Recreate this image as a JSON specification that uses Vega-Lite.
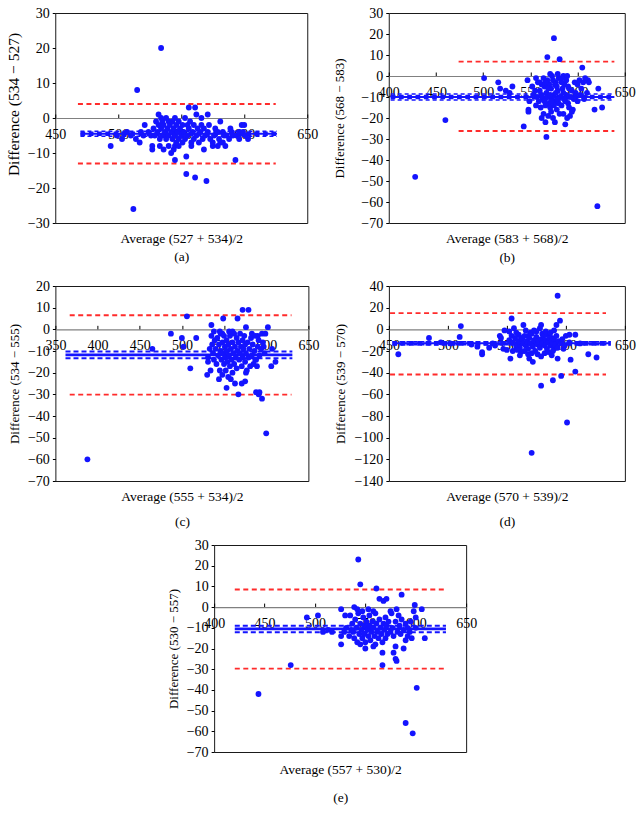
{
"$schema":"https://vega.github.io/schema/vega-lite/v6.json",
"padding":{"left":5,"top":5,"right":5,"bottom":5},
"background":"#ffffff",
"config":{
 "view":{"stroke":"#1a1a1a","strokeWidth":1},
 "font":"Liberation Serif",
 "axis":{"labelFont":"Liberation Serif","titleFont":"Liberation Serif","labelColor":"#000","titleColor":"#000","titleFontWeight":"normal","grid":false,"tickColor":"#000","labelFontSize":14,"titleFontSize":13.5},
 "axisY":{"domain":false,"tickSize":3,"labelPadding":3,"titlePadding":6,"titleFontSize":13},
 "axisX":{"tickSize":-4,"labelPadding":13,"domainColor":"#808080","domainWidth":1.2,"labelFlush":false,"labelOverlap":false,"titleBaseline":"top","titleLineHeight":19}
},
"datasets":{
"a":[{"x":534,"y":20},{"x":515,"y":8},{"x":512,"y":-26},{"x":494,"y":-8},{"x":556,"y":3},{"x":561,"y":3},{"x":562,"y":1},{"x":571,"y":1},{"x":566,"y":0},{"x":534,"y":0},{"x":545,"y":0},{"x":581,"y":-1},{"x":600,"y":-2},{"x":598,"y":-2},{"x":603,"y":-6},{"x":593,"y":-12},{"x":554,"y":-16},{"x":561,"y":-17},{"x":570,"y":-18},{"x":545,"y":-12},{"x":554,"y":-11},{"x":527,"y":-9},{"x":527,"y":-8},{"x":533,"y":-8},{"x":542,"y":-10},{"x":544,"y":-9},{"x":545,"y":-8},{"x":558,"y":-8},{"x":558,"y":-7},{"x":564,"y":-7},{"x":575,"y":-8},{"x":575,"y":-7},{"x":581,"y":-7},{"x":521,"y":-2},{"x":503,"y":-6},{"x":517,"y":-7},{"x":514,"y":-6},{"x":589,"y":-3},{"x":555,"y":-2},{"x":524,"y":-4},{"x":526,"y":-5},{"x":528,"y":-3},{"x":529,"y":-5},{"x":530,"y":-1},{"x":531,"y":-4},{"x":532,"y":-2},{"x":533,"y":-6},{"x":534,"y":-3},{"x":535,"y":-1},{"x":535,"y":-5},{"x":536,"y":-2},{"x":537,"y":-4},{"x":538,"y":0},{"x":538,"y":-6},{"x":539,"y":-3},{"x":540,"y":-1},{"x":540,"y":-5},{"x":541,"y":-2},{"x":542,"y":-4},{"x":543,"y":-1},{"x":543,"y":-6},{"x":544,"y":-3},{"x":545,"y":-5},{"x":546,"y":-2},{"x":547,"y":-4},{"x":548,"y":-1},{"x":548,"y":-6},{"x":549,"y":-3},{"x":550,"y":-5},{"x":551,"y":-2},{"x":552,"y":-4},{"x":553,"y":0},{"x":553,"y":-6},{"x":555,"y":-5},{"x":556,"y":-3},{"x":557,"y":-1},{"x":559,"y":-4},{"x":560,"y":-2},{"x":560,"y":-6},{"x":562,"y":-5},{"x":563,"y":-3},{"x":565,"y":-4},{"x":566,"y":-2},{"x":567,"y":-6},{"x":568,"y":-3},{"x":569,"y":-5},{"x":571,"y":-4},{"x":572,"y":-2},{"x":573,"y":-6},{"x":576,"y":-5},{"x":577,"y":-3},{"x":579,"y":-4},{"x":580,"y":-6},{"x":583,"y":-4},{"x":584,"y":-5},{"x":586,"y":-5},{"x":588,"y":-6},{"x":590,"y":-4},{"x":591,"y":-5},{"x":594,"y":-5},{"x":596,"y":-4},{"x":599,"y":-4},{"x":601,"y":-5},{"x":520,"y":-5},{"x":518,"y":-4},{"x":510,"y":-5},{"x":507,"y":-4},{"x":499,"y":-5},{"x":536,"y":-9},{"x":551,"y":-7},{"x":548,"y":-8},{"x":585,"y":-8},{"x":546,"y":-7},{"x":568,"y":-9},{"x":540,"y":-8},{"x":532,"y":1},{"x":579,"y":-8},{"x":583,"y":-7},{"x":596,"y":-6}],
"b":[{"x":575,"y":18},{"x":568,"y":9},{"x":581,"y":8},{"x":605,"y":4},{"x":571,"y":1},{"x":573,"y":0},{"x":501,"y":-1},{"x":516,"y":-3},{"x":518,"y":-6},{"x":531,"y":-5},{"x":524,"y":-7},{"x":528,"y":-8},{"x":543,"y":-24},{"x":460,"y":-21},{"x":428,"y":-48},{"x":621,"y":-62},{"x":618,"y":-16},{"x":626,"y":-15},{"x":622,"y":-6},{"x":567,"y":-29},{"x":576,"y":-22},{"x":587,"y":-23},{"x":589,"y":-20},{"x":548,"y":-16},{"x":548,"y":-17},{"x":562,"y":-20},{"x":566,"y":-22},{"x":595,"y":-16},{"x":611,"y":-2},{"x":608,"y":-1},{"x":547,"y":-2},{"x":607,"y":-11},{"x":600,"y":-12},{"x":592,"y":-19},{"x":585,"y":-18},{"x":610,"y":-8},{"x":604,"y":-6},{"x":600,"y":-4},{"x":585,"y":0},{"x":589,"y":0},{"x":580,"y":-1},{"x":558,"y":-3},{"x":552,"y":-5},{"x":553,"y":-9},{"x":549,"y":-12},{"x":556,"y":-14},{"x":561,"y":-15},{"x":564,"y":-18},{"x":569,"y":-19},{"x":572,"y":-17},{"x":578,"y":-16},{"x":583,"y":-14},{"x":590,"y":-13},{"x":596,"y":-11},{"x":598,"y":-8},{"x":591,"y":-6},{"x":586,"y":-4},{"x":577,"y":-3},{"x":570,"y":-4},{"x":565,"y":-5},{"x":560,"y":-7},{"x":557,"y":-10},{"x":563,"y":-11},{"x":567,"y":-8},{"x":572,"y":-6},{"x":575,"y":-9},{"x":579,"y":-7},{"x":582,"y":-10},{"x":584,"y":-6},{"x":588,"y":-9},{"x":593,"y":-10},{"x":594,"y":-7},{"x":576,"y":-12},{"x":570,"y":-13},{"x":566,"y":-14},{"x":580,"y":-13},{"x":587,"y":-12},{"x":573,"y":-11},{"x":568,"y":-10},{"x":562,"y":-9},{"x":578,"y":-5},{"x":583,"y":-3},{"x":574,"y":-2},{"x":568,"y":-2},{"x":562,"y":-4},{"x":555,"y":-7},{"x":559,"y":-12},{"x":571,"y":-15},{"x":575,"y":-14},{"x":581,"y":-18},{"x":574,"y":-20},{"x":579,"y":-11},{"x":585,"y":-8},{"x":590,"y":-5},{"x":597,"y":-3},{"x":602,"y":-2},{"x":606,"y":-3},{"x":612,"y":-3},{"x":603,"y":-9},{"x":577,"y":-8},{"x":571,"y":-9},{"x":565,"y":-12},{"x":560,"y":-3},{"x":556,"y":-1},{"x":564,"y":-1},{"x":579,"y":1},{"x":583,"y":-1},{"x":586,"y":-11},{"x":591,"y":-15},{"x":594,"y":-17},{"x":576,"y":-4},{"x":569,"y":-6},{"x":566,"y":-3},{"x":572,"y":-12},{"x":588,"y":-2}],
"c":[{"x":388,"y":-60},{"x":600,"y":-48},{"x":506,"y":6},{"x":572,"y":9},{"x":579,"y":9},{"x":549,"y":5},{"x":566,"y":5},{"x":535,"y":2},{"x":602,"y":1},{"x":576,"y":1},{"x":487,"y":-2},{"x":517,"y":-4},{"x":500,"y":-4},{"x":465,"y":-9},{"x":502,"y":-8},{"x":510,"y":-18},{"x":607,"y":-9},{"x":611,"y":-15},{"x":606,"y":-17},{"x":530,"y":-21},{"x":553,"y":-27},{"x":571,"y":-25},{"x":576,"y":-20},{"x":563,"y":-25},{"x":575,"y":-24},{"x":567,"y":-30},{"x":591,"y":-30},{"x":595,"y":-32},{"x":588,"y":-29},{"x":592,"y":-29},{"x":583,"y":-2},{"x":590,"y":-3},{"x":595,"y":-2},{"x":599,"y":-2},{"x":597,"y":-8},{"x":589,"y":-17},{"x":587,"y":-14},{"x":535,"y":-3},{"x":536,"y":-7},{"x":537,"y":-11},{"x":538,"y":-14},{"x":539,"y":-5},{"x":540,"y":-9},{"x":541,"y":-16},{"x":542,"y":-4},{"x":543,"y":-12},{"x":544,"y":-7},{"x":545,"y":-19},{"x":546,"y":-2},{"x":546,"y":-10},{"x":547,"y":-14},{"x":548,"y":-6},{"x":548,"y":-21},{"x":549,"y":-11},{"x":550,"y":-3},{"x":550,"y":-16},{"x":551,"y":-8},{"x":551,"y":-13},{"x":552,"y":-19},{"x":553,"y":-5},{"x":553,"y":-10},{"x":554,"y":-15},{"x":555,"y":-22},{"x":555,"y":-7},{"x":556,"y":-12},{"x":557,"y":-3},{"x":557,"y":-17},{"x":558,"y":-9},{"x":559,"y":-14},{"x":560,"y":-6},{"x":560,"y":-20},{"x":561,"y":-11},{"x":562,"y":-2},{"x":562,"y":-16},{"x":563,"y":-8},{"x":564,"y":-13},{"x":565,"y":-4},{"x":565,"y":-18},{"x":566,"y":-10},{"x":567,"y":-6},{"x":568,"y":-14},{"x":569,"y":-2},{"x":569,"y":-11},{"x":570,"y":-8},{"x":571,"y":-17},{"x":572,"y":-5},{"x":572,"y":-13},{"x":573,"y":-9},{"x":574,"y":-3},{"x":575,"y":-15},{"x":575,"y":-7},{"x":576,"y":-11},{"x":577,"y":-19},{"x":578,"y":-6},{"x":579,"y":-13},{"x":580,"y":-9},{"x":581,"y":-17},{"x":582,"y":-4},{"x":583,"y":-12},{"x":584,"y":-7},{"x":585,"y":-16},{"x":586,"y":-10},{"x":587,"y":-3},{"x":588,"y":-14},{"x":590,"y":-8},{"x":591,"y":-5},{"x":592,"y":-12},{"x":594,"y":-9},{"x":596,"y":-6},{"x":598,"y":-11},{"x":533,"y":-9},{"x":531,"y":-13},{"x":531,"y":-15},{"x":534,"y":-19},{"x":544,"y":-23},{"x":558,"y":-23},{"x":548,"y":-2},{"x":556,"y":-1},{"x":560,"y":-1},{"x":545,"y":-1},{"x":538,"y":-1}],
"d":[{"x":593,"y":31},{"x":595,"y":8},{"x":592,"y":4},{"x":554,"y":10},{"x":564,"y":4},{"x":579,"y":4},{"x":511,"y":3},{"x":510,"y":-7},{"x":484,"y":-8},{"x":458,"y":-23},{"x":529,"y":-23},{"x":529,"y":-21},{"x":553,"y":-27},{"x":569,"y":-27},{"x":572,"y":-30},{"x":576,"y":-23},{"x":588,"y":-24},{"x":593,"y":-27},{"x":604,"y":-28},{"x":619,"y":-23},{"x":626,"y":-26},{"x":608,"y":-39},{"x":596,"y":-43},{"x":579,"y":-52},{"x":589,"y":-47},{"x":601,"y":-86},{"x":571,"y":-114},{"x":494,"y":-12},{"x":502,"y":-13},{"x":520,"y":-14},{"x":525,"y":-16},{"x":535,"y":-17},{"x":538,"y":-13},{"x":540,"y":-15},{"x":545,"y":-8},{"x":544,"y":-6},{"x":548,"y":-1},{"x":552,"y":-2},{"x":556,"y":1},{"x":558,"y":-3},{"x":560,"y":-5},{"x":562,"y":-8},{"x":547,"y":-18},{"x":550,"y":-19},{"x":555,"y":-20},{"x":558,"y":-16},{"x":565,"y":-20},{"x":568,"y":-23},{"x":582,"y":-22},{"x":585,"y":-21},{"x":590,"y":-18},{"x":598,"y":-18},{"x":600,"y":-6},{"x":603,"y":-5},{"x":608,"y":-5},{"x":603,"y":-12},{"x":612,"y":-13},{"x":575,"y":-2},{"x":580,"y":-4},{"x":585,"y":-5},{"x":588,"y":-8},{"x":570,"y":-3},{"x":568,"y":-6},{"x":552,"y":-10},{"x":555,"y":-12},{"x":557,"y":-8},{"x":558,"y":-14},{"x":560,"y":-11},{"x":561,"y":-17},{"x":563,"y":-9},{"x":564,"y":-13},{"x":565,"y":-6},{"x":566,"y":-15},{"x":567,"y":-11},{"x":568,"y":-18},{"x":569,"y":-8},{"x":570,"y":-13},{"x":571,"y":-4},{"x":572,"y":-16},{"x":573,"y":-10},{"x":574,"y":-20},{"x":575,"y":-7},{"x":576,"y":-14},{"x":577,"y":-11},{"x":578,"y":-17},{"x":579,"y":-9},{"x":580,"y":-13},{"x":581,"y":-6},{"x":582,"y":-15},{"x":583,"y":-10},{"x":584,"y":-18},{"x":585,"y":-12},{"x":586,"y":-8},{"x":587,"y":-15},{"x":588,"y":-11},{"x":589,"y":-20},{"x":590,"y":-9},{"x":591,"y":-14},{"x":592,"y":-6},{"x":593,"y":-17},{"x":594,"y":-11},{"x":596,"y":-13},{"x":597,"y":-9},{"x":599,"y":-15},{"x":562,"y":-21},{"x":566,"y":-1},{"x":573,"y":-1},{"x":578,"y":1},{"x":583,"y":-2},{"x":587,"y":-3},{"x":590,"y":-1},{"x":554,"y":-6},{"x":559,"y":-19},{"x":571,"y":-22},{"x":579,"y":-25},{"x":561,"y":-24}],
"e":[{"x":543,"y":23},{"x":545,"y":11},{"x":561,"y":9},{"x":586,"y":6},{"x":599,"y":1},{"x":606,"y":-1},{"x":564,"y":4},{"x":568,"y":3},{"x":571,"y":4},{"x":526,"y":-1},{"x":503,"y":-4},{"x":492,"y":-5},{"x":508,"y":-12},{"x":476,"y":-28},{"x":444,"y":-42},{"x":526,"y":-18},{"x":567,"y":-22},{"x":567,"y":-28},{"x":580,"y":-19},{"x":578,"y":-22},{"x":580,"y":-25},{"x":581,"y":-26},{"x":588,"y":-20},{"x":590,"y":-56},{"x":597,"y":-61},{"x":601,"y":-39},{"x":609,"y":-15},{"x":598,"y":-2},{"x":600,"y":-5},{"x":583,"y":-4},{"x":550,"y":-20},{"x":558,"y":-19},{"x":545,"y":-18},{"x":530,"y":-4},{"x":539,"y":0},{"x":517,"y":-12},{"x":513,"y":-11},{"x":526,"y":-14},{"x":600,"y":-10},{"x":596,"y":-15},{"x":590,"y":-16},{"x":592,"y":-14},{"x":535,"y":-4},{"x":537,"y":-8},{"x":538,"y":-12},{"x":539,"y":-15},{"x":540,"y":-6},{"x":541,"y":-10},{"x":542,"y":-17},{"x":543,"y":-3},{"x":544,"y":-13},{"x":545,"y":-8},{"x":546,"y":-11},{"x":547,"y":-15},{"x":548,"y":-5},{"x":549,"y":-9},{"x":549,"y":-13},{"x":550,"y":-17},{"x":551,"y":-7},{"x":552,"y":-11},{"x":553,"y":-14},{"x":554,"y":-4},{"x":554,"y":-9},{"x":555,"y":-16},{"x":556,"y":-12},{"x":557,"y":-7},{"x":558,"y":-10},{"x":559,"y":-14},{"x":560,"y":-3},{"x":560,"y":-18},{"x":561,"y":-8},{"x":562,"y":-12},{"x":563,"y":-15},{"x":564,"y":-6},{"x":565,"y":-10},{"x":566,"y":-13},{"x":567,"y":-17},{"x":568,"y":-8},{"x":569,"y":-11},{"x":570,"y":-5},{"x":570,"y":-15},{"x":571,"y":-9},{"x":572,"y":-13},{"x":573,"y":-7},{"x":575,"y":-12},{"x":576,"y":-3},{"x":577,"y":-10},{"x":578,"y":-14},{"x":580,"y":-7},{"x":581,"y":-1},{"x":582,"y":-12},{"x":584,"y":-9},{"x":585,"y":-13},{"x":586,"y":-6},{"x":588,"y":-11},{"x":590,"y":-8},{"x":592,"y":-10},{"x":594,"y":-12},{"x":595,"y":-7},{"x":542,"y":-1},{"x":547,"y":-2},{"x":553,"y":-1},{"x":558,"y":-2},{"x":575,"y":-2},{"x":536,"y":-11},{"x":531,"y":-10},{"x":529,"y":-12},{"x":534,"y":-14}]
},
"center":true,
"spacing":13,
"vconcat":[
{"spacing":14.5,"hconcat":[
 {"width":252,"height":210,
  "encoding":{
   "x":{"field":"x","type":"quantitative","scale":{"domain":[450,650],"nice":false,"zero":false},"axis":{"values":[450,500,550,600,650],"offset":-105,"title":["Average (527 + 534)/2","(a)"],"titleY":113.5,"titleLineHeight":18}},
   "y":{"field":"y","type":"quantitative","scale":{"domain":[-30,30],"nice":false,"zero":false},"axis":{"values":[-30,-20,-10,0,10,20,30],"title":"Difference (534 − 527)","titleY":91,"titleFontSize":15.5}}},
  "layer":[
   {"data":{"values":[{"y":4,"x":468,"x2":625},{"y":-13,"x":468,"x2":625}]},"mark":{"type":"rule","color":"#ff2b2b","strokeWidth":1.8,"strokeDash":[5,3.5]},"encoding":{"x2":{"field":"x2"}}},
   {"data":{"values":[{"y":-3.8,"x":470,"x2":626},{"y":-5.2,"x":470,"x2":626}]},"mark":{"type":"rule","color":"#1414ff","strokeWidth":1.5,"strokeDash":[4,3]},"encoding":{"x2":{"field":"x2"}}},
   {"data":{"values":[{"y":-4.5,"x":470,"x2":626}]},"mark":{"type":"rule","color":"#1414ff","strokeWidth":2},"encoding":{"x2":{"field":"x2"}}},
   {"data":{"values":[{"y":-4.5,"x":470,"x2":626}]},"mark":{"type":"rule","color":"#1414ff","strokeWidth":4.7,"strokeDash":[4.7,3.6]},"encoding":{"x2":{"field":"x2"}}},
   {"data":{"name":"a"},"mark":{"type":"point","filled":true,"shape":"circle","size":34,"color":"#1414ff","opacity":1}}
  ]},
 {"width":236,"height":210,
  "encoding":{
   "x":{"field":"x","type":"quantitative","scale":{"domain":[400,650],"nice":false,"zero":false},"axis":{"values":[400,450,500,550,600,650],"offset":-147,"title":["Average (583 + 568)/2","(b)"],"titleY":155.5}},
   "y":{"field":"y","type":"quantitative","scale":{"domain":[-70,30],"nice":false,"zero":false},"axis":{"values":[-70,-60,-50,-40,-30,-20,-10,0,10,20,30],"title":"Difference (568 − 583)","titlePadding":14}}},
  "layer":[
   {"data":{"values":[{"y":6.8,"x":474,"x2":639},{"y":-26.2,"x":474,"x2":639}]},"mark":{"type":"rule","color":"#ff2b2b","strokeWidth":1.8,"strokeDash":[5,3.5]},"encoding":{"x2":{"field":"x2"}}},
   {"data":{"values":[{"y":-8.6,"x":402,"x2":639},{"y":-11.4,"x":402,"x2":639}]},"mark":{"type":"rule","color":"#1414ff","strokeWidth":1.5,"strokeDash":[4,3]},"encoding":{"x2":{"field":"x2"}}},
   {"data":{"values":[{"y":-10,"x":402,"x2":639}]},"mark":{"type":"rule","color":"#1414ff","strokeWidth":2},"encoding":{"x2":{"field":"x2"}}},
   {"data":{"values":[{"y":-10,"x":402,"x2":639}]},"mark":{"type":"rule","color":"#1414ff","strokeWidth":4.7,"strokeDash":[4.7,3.6]},"encoding":{"x2":{"field":"x2"}}},
   {"data":{"name":"b"},"mark":{"type":"point","filled":true,"shape":"circle","size":34,"color":"#1414ff","opacity":1}}
  ]}
]},
{"center":true,"spacing":8,"vconcat":[
{"spacing":14.5,"hconcat":[
 {"width":253,"height":195,
  "encoding":{
   "x":{"field":"x","type":"quantitative","scale":{"domain":[350,650],"nice":false,"zero":false},"axis":{"values":[350,400,450,500,550,600,650],"offset":-151.67,"title":["Average (555 + 534)/2","(c)"],"titleY":160.2,"titleLineHeight":25}},
   "y":{"field":"y","type":"quantitative","scale":{"domain":[-70,20],"nice":false,"zero":false},"axis":{"values":[-70,-60,-50,-40,-30,-20,-10,0,10,20],"title":"Difference (534 − 555)"}}},
  "layer":[
   {"data":{"values":[{"y":6.5,"x":367,"x2":630},{"y":-30.1,"x":367,"x2":630}]},"mark":{"type":"rule","color":"#ff2b2b","strokeWidth":1.8,"strokeDash":[5,3.5]},"encoding":{"x2":{"field":"x2"}}},
   {"data":{"values":[{"y":-10.2,"x":362,"x2":631},{"y":-13.3,"x":362,"x2":631}]},"mark":{"type":"rule","color":"#1414ff","strokeWidth":2,"strokeDash":[5,3]},"encoding":{"x2":{"field":"x2"}}},
   {"data":{"values":[{"y":-11.8,"x":362,"x2":631}]},"mark":{"type":"rule","color":"#1414ff","strokeWidth":2.8},"encoding":{"x2":{"field":"x2"}}},
   {"data":{"name":"c"},"mark":{"type":"point","filled":true,"shape":"circle","size":34,"color":"#1414ff","opacity":1}}
  ]},
 {"width":236,"height":195,
  "encoding":{
   "x":{"field":"x","type":"quantitative","scale":{"domain":[450,650],"nice":false,"zero":false},"axis":{"values":[450,500,550,600,650],"offset":-151.67,"title":["Average (570 + 539)/2","(d)"],"titleY":160.2,"titleLineHeight":25}},
   "y":{"field":"y","type":"quantitative","scale":{"domain":[-140,40],"nice":false,"zero":false},"axis":{"values":[-140,-120,-100,-80,-60,-40,-20,0,20,40],"title":"Difference (539 − 570)"}}},
  "layer":[
   {"data":{"values":[{"y":15,"x":451,"x2":634},{"y":-41.7,"x":451,"x2":634}]},"mark":{"type":"rule","color":"#ff2b2b","strokeWidth":1.8,"strokeDash":[5,3.5]},"encoding":{"x2":{"field":"x2"}}},
   {"data":{"values":[{"y":-11.5,"x":453,"x2":638},{"y":-14.3,"x":453,"x2":638}]},"mark":{"type":"rule","color":"#1414ff","strokeWidth":1.5,"strokeDash":[4,3]},"encoding":{"x2":{"field":"x2"}}},
   {"data":{"values":[{"y":-12.9,"x":453,"x2":638}]},"mark":{"type":"rule","color":"#1414ff","strokeWidth":2},"encoding":{"x2":{"field":"x2"}}},
   {"data":{"values":[{"y":-12.9,"x":453,"x2":638}]},"mark":{"type":"rule","color":"#1414ff","strokeWidth":4.7,"strokeDash":[4.7,3.6]},"encoding":{"x2":{"field":"x2"}}},
   {"data":{"name":"d"},"mark":{"type":"point","filled":true,"shape":"circle","size":34,"color":"#1414ff","opacity":1}}
  ]}
]},
{"width":252,"height":207,
  "encoding":{
   "x":{"field":"x","type":"quantitative","scale":{"domain":[400,650],"nice":false,"zero":false},"axis":{"values":[400,450,500,550,600,650],"offset":-144.9,"title":["Average (557 + 530)/2","(e)"],"titleY":155.5,"titleLineHeight":28}},
   "y":{"field":"y","type":"quantitative","scale":{"domain":[-70,30],"nice":false,"zero":false},"axis":{"values":[-70,-60,-50,-40,-30,-20,-10,0,10,20,30],"title":"Difference (530 − 557)"}}},
  "layer":[
   {"data":{"values":[{"y":8.5,"x":420.5,"x2":630},{"y":-29.7,"x":420.5,"x2":630}]},"mark":{"type":"rule","color":"#ff2b2b","strokeWidth":1.8,"strokeDash":[5,3.5]},"encoding":{"x2":{"field":"x2"}}},
   {"data":{"values":[{"y":-9,"x":420.5,"x2":630},{"y":-12.1,"x":420.5,"x2":630}]},"mark":{"type":"rule","color":"#1414ff","strokeWidth":2,"strokeDash":[5,3]},"encoding":{"x2":{"field":"x2"}}},
   {"data":{"values":[{"y":-10.5,"x":420.5,"x2":630}]},"mark":{"type":"rule","color":"#1414ff","strokeWidth":2.8},"encoding":{"x2":{"field":"x2"}}},
   {"data":{"name":"e"},"mark":{"type":"point","filled":true,"shape":"circle","size":34,"color":"#1414ff","opacity":1}}
  ]}
]}
]
}
